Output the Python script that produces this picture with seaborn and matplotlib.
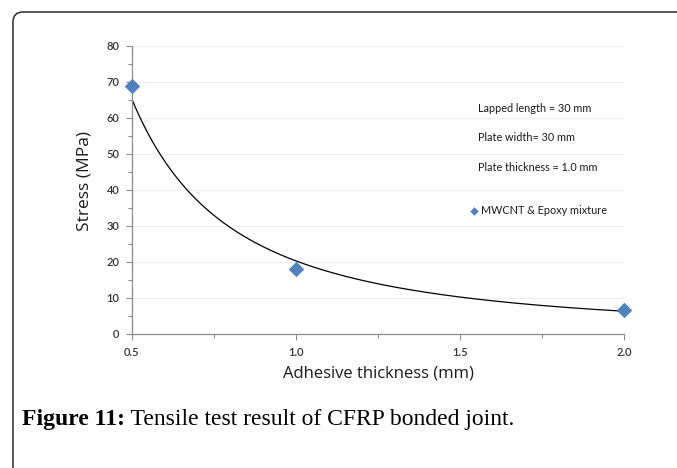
import numpy as np
import pandas as pd
import matplotlib
matplotlib.use("Agg")
import matplotlib.pyplot as plt
import seaborn as sns
from matplotlib.patches import FancyBboxPatch
from matplotlib.transforms import IdentityTransform
from matplotlib.ticker import FixedLocator, MultipleLocator, FormatStrFormatter

# Measured tensile strength versus adhesive layer thickness
thickness_mm = [0.5, 1.0, 2.0]
stress_mpa = [69.0, 18.1, 6.7]
series_name = "MWCNT & Epoxy mixture"

x_ticks = [0.5, 1.0, 1.5, 2.0]
y_ticks = [0, 10, 20, 30, 40, 50, 60, 70, 80]

test_notes = ["Lapped length = 30 mm", "Plate width= 30 mm", "Plate thickness = 1.0 mm"]
caption_bold = "Figure 11:"
caption_text = " Tensile test result of CFRP bonded joint."

sns.set_theme(style="white")
plt.rcParams["font.family"] = ["Lato", "DejaVu Sans"]

df = pd.DataFrame({"thickness": thickness_mm, "stress": stress_mpa})

# Power-law trendline y = a * x^b, least squares in log-log space
b, log_a = np.polyfit(np.log(df["thickness"]), np.log(df["stress"]), 1)
x_fit = np.linspace(min(thickness_mm), max(thickness_mm), 300)
fit = pd.DataFrame({"thickness": x_fit, "stress": np.exp(log_a) * x_fit ** b})

W, H = 677, 468
fig = plt.figure(figsize=(W / 100, H / 100), dpi=100)
fig.patch.set_facecolor("white")
ax = fig.add_axes([132 / W, 1 - 334 / H, 492 / W, 288 / H])

blue = "#4F81BD"
sns.lineplot(data=fit, x="thickness", y="stress", color="black", lw=0.9,
             ax=ax, legend=False)
sns.scatterplot(data=df, x="thickness", y="stress", marker="D", s=62,
                color=blue, edgecolor=blue, linewidth=0, ax=ax,
                label=series_name, zorder=4, clip_on=False)

ax.set_xlim(x_ticks[0], x_ticks[-1])
ax.set_ylim(y_ticks[0], y_ticks[-1])
ax.xaxis.set_major_locator(FixedLocator(x_ticks))
ax.xaxis.set_minor_locator(MultipleLocator(0.25))
ax.xaxis.set_major_formatter(FormatStrFormatter("%.1f"))
ax.yaxis.set_major_locator(FixedLocator(y_ticks))
ax.yaxis.set_minor_locator(MultipleLocator(5))

axis_grey = "#8c8c8c"
for side in ["top", "right"]:
    ax.spines[side].set_visible(False)
for side in ["left", "bottom"]:
    ax.spines[side].set_color(axis_grey)
    ax.spines[side].set_linewidth(0.9)

ax.yaxis.grid(True, which="major", color="#efefef", lw=0.8)
ax.xaxis.grid(False)
ax.set_axisbelow(True)

ax.tick_params(which="both", bottom=True, left=True, direction="out",
               color=axis_grey, width=0.8)
ax.tick_params(which="major", length=4, labelsize=8, labelcolor="#333333", pad=5)
ax.tick_params(which="minor", length=3)
for lbl in ax.get_xticklabels() + ax.get_yticklabels():
    lbl.set_fontweight("semibold")

ax.set_xlabel("Adhesive thickness (mm)", fontsize=12, family="Open Sans",
              color="#1a1a1a", labelpad=6)
ax.set_ylabel("Stress (MPa)", fontsize=12.5, family="Open Sans",
              color="#1a1a1a", labelpad=9)
ax.yaxis.set_label_coords(-0.08, 0.53)

# Test specimen notes
for i, note in enumerate(test_notes):
    fig.text(478 / W, 1 - (108 + 29.5 * i) / H, note, fontsize=7.8,
             color="#1a1a1a", va="center", ha="left")

leg = ax.legend(loc="center left", bbox_to_anchor=(471 / W, 1 - 210 / H),
                bbox_transform=fig.transFigure, frameon=False, fontsize=7.8,
                handlelength=0.6, handletextpad=0.3, borderpad=0,
                borderaxespad=0, markerscale=0.55)
for t in leg.get_texts():
    t.set_color("#1a1a1a")

# Caption
cap = fig.text(22 / W, 1 - 425 / H, caption_bold, fontsize=17,
               family="Liberation Serif", fontweight="bold", color="black",
               va="baseline", ha="left")
ax.annotate(caption_text, xy=(1, 0), xycoords=cap, va="bottom", ha="left",
            fontsize=17, family="Liberation Serif", color="black",
            annotation_clip=False)

# Rounded frame around the figure panel
frame = FancyBboxPatch((13, -30), 720, 468 - 12 + 30,
                       boxstyle="round,pad=0,rounding_size=10",
                       transform=IdentityTransform(), fill=False,
                       ec="#2b2b2b", lw=1.1)
fig.add_artist(frame)

fig.savefig("out.png", dpi=100)
